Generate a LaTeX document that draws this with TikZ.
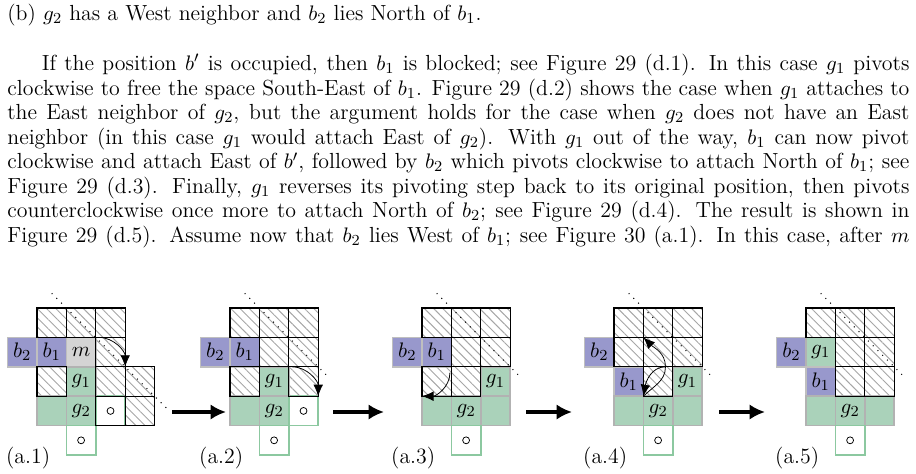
\documentclass[tikz,border=0pt]{standalone}
\usetikzlibrary{patterns.meta,arrows.meta}

\definecolor{gfill}{RGB}{170,210,186}
\definecolor{gline}{RGB}{140,200,160}
\definecolor{bfill}{RGB}{152,152,204}
\definecolor{mfill}{RGB}{212,212,212}

\tikzset{
	cellstep/.style = {x = 15.34pt, y = -15.34pt},
	hatched/.style = {pattern = {Lines[angle = -45, distance = 3.4pt, line width = 0.5pt]}, pattern color = gray!70},
	pivot/.style = {-{Latex[length = 6pt, width = 5pt]}},
	step arrow/.style = {line width = 2pt, -{Latex[length = 8pt, width = 8pt]}},
	diag/.style = {dash pattern = on 0.5pt off 3pt, line width = 0.6pt}
}

% Cell drawing macros (column, row)
\newcommand{\hcell}[2]{\fill [hatched] (#1, #2) rectangle ++ (1, 1);
	\draw [semithick] (#1, #2) rectangle ++ (1, 1);}
\newcommand{\gcell}[3]{\filldraw [fill = gfill, draw = gray!60, thick] (#1, #2) rectangle ++ (1, 1)
	node [pos = 0.5] {$#3$};}
\newcommand{\bcell}[3]{\filldraw [fill = bfill, draw = gray!50, thick] (#1, #2) rectangle ++ (1, 1)
	node [pos = 0.5] {$#3$};}
\newcommand{\ocell}[2]{\draw [gline, thick] (#1, #2) rectangle ++ (1, 1);
	\draw (#1 + 0.5, #2 + 0.5) circle (1.8pt);}

\begin{document}
\begin{tikzpicture}[x = 0.5217pt, y = -0.5217pt, font = \fontsize{11.4}{12.8}\selectfont]

	\useasboundingbox (0, 0) rectangle (916, 474);

	% Running text

	\node (para) [anchor = north west, inner sep = 0pt, text width = 470.6pt, align = justify] at (7, 4) {%
		\hyphenpenalty = 10000 \exhyphenpenalty = 10000
		(b) $g_2$ has a West neighbor and $b_2$ lies North of $b_1$.\par\vspace{13.2pt}
		\hspace*{18pt}If the position $b'$ is occupied, then $b_1$ is blocked; see Figure 29 (d.1). In this case $g_1$ pivots\linebreak
		clockwise to free the space South-East of $b_1$. Figure 29 (d.2) shows the case when $g_1$ attaches to\linebreak
		the East neighbor of $g_2$, but the argument holds for the case when $g_2$ does not have an East\linebreak
		neighbor (in this case $g_1$ would attach East of $g_2$). With $g_1$ out of the way, $b_1$ can now pivot\linebreak
		clockwise and attach East of $b'$, followed by $b_2$ which pivots clockwise to attach North of $b_1$; see\linebreak
		Figure 29 (d.3). Finally, $g_1$ reverses its pivoting step back to its original position, then pivots\linebreak
		counterclockwise once more to attach North of $b_2$; see Figure 29 (d.4). The result is shown in\linebreak
		Figure 29 (d.5). Assume now that $b_2$ lies West of $b_1$; see Figure 30 (a.1). In this case, after $m$\linebreak};

	% (a.1)

	\begin{scope}[shift = {(37, 308)}, cellstep]
		\bcell{-1}{1}{b_2} \bcell{0}{1}{b_1}
		\filldraw [fill = mfill, draw = gray!50, thick] (1, 1) rectangle ++ (1, 1) node [pos = 0.5] {$m$};
		\gcell{0}{3}{} \gcell{1}{2}{g_1} \gcell{1}{3}{g_2}
		\ocell{2}{3} \ocell{1}{4}
		\draw [semithick] (2, 3) rectangle ++ (1, 1);
		\hcell{0}{0} \hcell{1}{0} \hcell{2}{0} \hcell{2}{1}
		\hcell{0}{2} \hcell{2}{2} \hcell{3}{2} \hcell{3}{3}
		\draw [diag] (0.5, -0.5) -- (4.5, 3.5);
		\draw [pivot] (2.1, 1) to [out = 0, in = 90] (3, 2);
		\node (lab1) at (-0.3, 5.1) {(a.1)};
	\end{scope}

	% (a.2)

	\begin{scope}[shift = {(230, 308)}, cellstep]
		\bcell{-1}{1}{b_2} \bcell{0}{1}{b_1}
		\gcell{0}{3}{} \gcell{1}{2}{g_1} \gcell{1}{3}{g_2}
		\ocell{2}{3} \ocell{1}{4}
		\hcell{0}{0} \hcell{1}{0} \hcell{2}{0} \hcell{1}{1} \hcell{2}{1}
		\hcell{0}{2} \hcell{2}{2}
		\draw [diag] (0.5, -0.5) -- (3.4, 2.4);
		\draw [pivot] (2.1, 2) to [out = 0, in = 90] (3, 3);
		\node (lab2) at (-0.3, 5.1) {(a.2)};
	\end{scope}

	% (a.3)

	\begin{scope}[shift = {(422, 308)}, cellstep]
		\bcell{-1}{1}{b_2} \bcell{0}{1}{b_1}
		\gcell{0}{3}{} \gcell{1}{3}{g_2} \gcell{2}{3}{} \gcell{2}{2}{g_1}
		\ocell{1}{4}
		\hcell{0}{0} \hcell{1}{0} \hcell{2}{0} \hcell{1}{1} \hcell{2}{1}
		\hcell{0}{2} \hcell{1}{2}
		\draw [diag] (0.5, -0.5) -- (3.4, 2.4);
		\draw [pivot] (0.95, 2.2) to [out = -90, in = 0] (0, 3);
		\node (lab3) at (-0.3, 5.1) {(a.3)};
	\end{scope}

	% (a.4)

	\begin{scope}[shift = {(614, 308)}, cellstep]
		\bcell{-1}{1}{b_2} \bcell{0}{2}{b_1}
		\gcell{0}{3}{} \gcell{1}{3}{g_2} \gcell{2}{3}{} \gcell{2}{2}{g_1}
		\ocell{1}{4}
		\hcell{0}{0} \hcell{1}{0} \hcell{2}{0} \hcell{0}{1} \hcell{1}{1} \hcell{2}{1}
		\hcell{1}{2}
		\draw [diag] (0.5, -0.5) -- (3.4, 2.4);
		\draw [pivot] (1, 3) to [out = 45, in = -90] (1.75, 2) to [out = 90, in = -45] (1, 1);
		\draw [pivot] (1.75, 2) to [out = 180, in = 80] (1, 3);
		\node (lab4) at (-0.3, 5.1) {(a.4)};
	\end{scope}

	% (a.5)

	\begin{scope}[shift = {(806, 308)}, cellstep]
		\bcell{-1}{1}{b_2} \gcell{0}{1}{g_1} \bcell{0}{2}{b_1}
		\gcell{0}{3}{} \gcell{1}{3}{g_2} \gcell{2}{3}{}
		\ocell{1}{4}
		\hcell{0}{0} \hcell{1}{0} \hcell{2}{0} \hcell{1}{1} \hcell{2}{1}
		\hcell{1}{2} \hcell{2}{2}
		\draw [diag] (0.5, -0.5) -- (3.4, 2.4);
		\node (lab5) at (-0.3, 5.1) {(a.5)};
	\end{scope}

	% Step arrows between panels

	\coordinate (s1) at (172, 412); \coordinate (e1) at (226, 412);
	\coordinate (s2) at (333, 412); \coordinate (e2) at (384, 412);
	\coordinate (s3) at (526, 412); \coordinate (e3) at (572, 412);
	\coordinate (s4) at (719, 412); \coordinate (e4) at (765, 412);
	\foreach \i in {1, ..., 4}
		\draw [step arrow] (s\i) -- (e\i);

\end{tikzpicture}
\end{document}
